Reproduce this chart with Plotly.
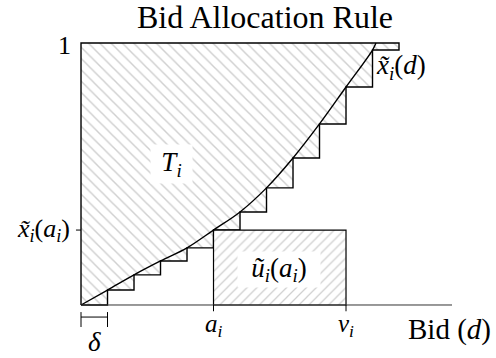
"""Bid allocation rule: step approximation of x_i(d)."""
import plotly.graph_objects as go

# bid grid in units of delta, and the step (left-endpoint) allocation values
bid_grid = list(range(13))
alloc_steps = [0.0, 0.057, 0.115, 0.168, 0.218, 0.286, 0.355, 0.447, 0.561, 0.691, 0.832, 0.973]
curve_end_bid = 11.13  # where x_i(d) reaches 1
a_i = 5
v_i = 10
axis_end = 14.0

x_at_a = alloc_steps[a_i]
FONT = "Liberation Serif, DejaVu Serif, serif"
HATCH = "#a0a0a0"

fig = go.Figure()

# T_i region: everything between the step rule and 1
fig.add_trace(go.Scatter(
    x=bid_grid + [bid_grid[-1], 0, 0],
    y=alloc_steps + [alloc_steps[-1], 1, 1, 0],
    mode="lines",
    line=dict(color="black", width=1.4, shape="hv"),
    fill="toself",
    fillcolor="white",
    fillpattern=dict(shape="\\", fgcolor=HATCH, bgcolor="white", size=8, solidity=0.18),
    hoverinfo="skip",
))

# u_i(a_i) rectangle
fig.add_trace(go.Scatter(
    x=[a_i, v_i, v_i, a_i, a_i],
    y=[0, 0, x_at_a, x_at_a, 0],
    mode="lines",
    line=dict(color="black", width=1.2),
    fill="toself",
    fillcolor="white",
    fillpattern=dict(shape="/", fgcolor=HATCH, bgcolor="white", size=7, solidity=0.18),
    hoverinfo="skip",
))

# smooth allocation curve through the step corners
fig.add_trace(go.Scatter(
    x=bid_grid[:len(alloc_steps)] + [curve_end_bid],
    y=alloc_steps + [1.0],
    mode="lines",
    line=dict(color="black", width=1.4, shape="spline"),
    hoverinfo="skip",
))

# bid axis
fig.add_trace(go.Scatter(
    x=[0, axis_end], y=[0, 0], mode="lines",
    line=dict(color="#333", width=1), hoverinfo="skip",
))

shapes = [
    # ticks
    dict(type="line", x0=-0.19, x1=0, y0=x_at_a, y1=x_at_a, line=dict(color="black", width=1)),
    dict(type="line", x0=a_i, x1=a_i, y0=0, y1=-0.024, line=dict(color="black", width=1)),
    dict(type="line", x0=v_i, x1=v_i, y0=0, y1=-0.024, line=dict(color="black", width=1)),
    # delta bracket
    dict(type="line", x0=0, x1=1, y0=-0.046, y1=-0.046, line=dict(color="black", width=1)),
    dict(type="line", x0=0, x1=0, y0=-0.027, y1=-0.084, line=dict(color="black", width=1)),
    dict(type="line", x0=1, x1=1, y0=-0.027, y1=-0.084, line=dict(color="black", width=1)),
]

xt = "<i>x\u0303</i><sub><i>i</i></sub>"
annotations = [
    dict(x=6.94, y=1.099, text="Bid Allocation Rule", font=dict(size=32)),
    dict(x=-0.3, y=0.992, text="1", xanchor="right", font=dict(size=26)),
    dict(x=-0.33, y=x_at_a, text=xt + "(<i>a</i><sub><i>i</i></sub>)", xanchor="right",
         font=dict(size=26)),
    dict(x=a_i, y=-0.078, text="<i>a</i><sub><i>i</i></sub>", font=dict(size=25)),
    dict(x=v_i, y=-0.078, text="<i>v</i><sub><i>i</i></sub>", font=dict(size=25)),
    dict(x=12.26, y=-0.095, text="Bid (<i>d</i>)", xanchor="left", font=dict(size=29)),
    dict(x=0.5, y=-0.141, text="<i>\u03b4</i>", font=dict(size=27)),
    dict(x=3.43, y=0.538, text="<i>T</i><sub><i>i</i></sub>", font=dict(size=27),
         bgcolor="white", width=41, height=38, borderpad=0),
    dict(x=7.47, y=0.134, text="<i>u\u0303</i><sub><i>i</i></sub>(<i>a</i><sub><i>i</i></sub>)",
         font=dict(size=27), bgcolor="white", width=82, height=35, borderpad=0),
    dict(x=11.04, y=0.908, text=xt + "(<i>d</i>)", xanchor="left", font=dict(size=27)),
]
for ann in annotations:
    ann.setdefault("xanchor", "center")
    ann["font"].update(family=FONT, color="black")
    ann.update(xref="x", yref="y", yanchor="middle", showarrow=False)

fig.update_layout(
    width=496,
    height=358,
    autosize=False,
    margin=dict(l=0, r=0, t=0, b=0),
    paper_bgcolor="white",
    plot_bgcolor="white",
    showlegend=False,
    font=dict(family=FONT, color="black"),
    xaxis=dict(range=[-3.057, 15.66], visible=False, fixedrange=True),
    yaxis=dict(range=[-0.2023, 1.164], visible=False, fixedrange=True),
    shapes=shapes,
    annotations=annotations,
)

fig.write_html(
    "out.html",
    config={"displayModeBar": False},
    post_script="document.body.style.margin='0';",
)
